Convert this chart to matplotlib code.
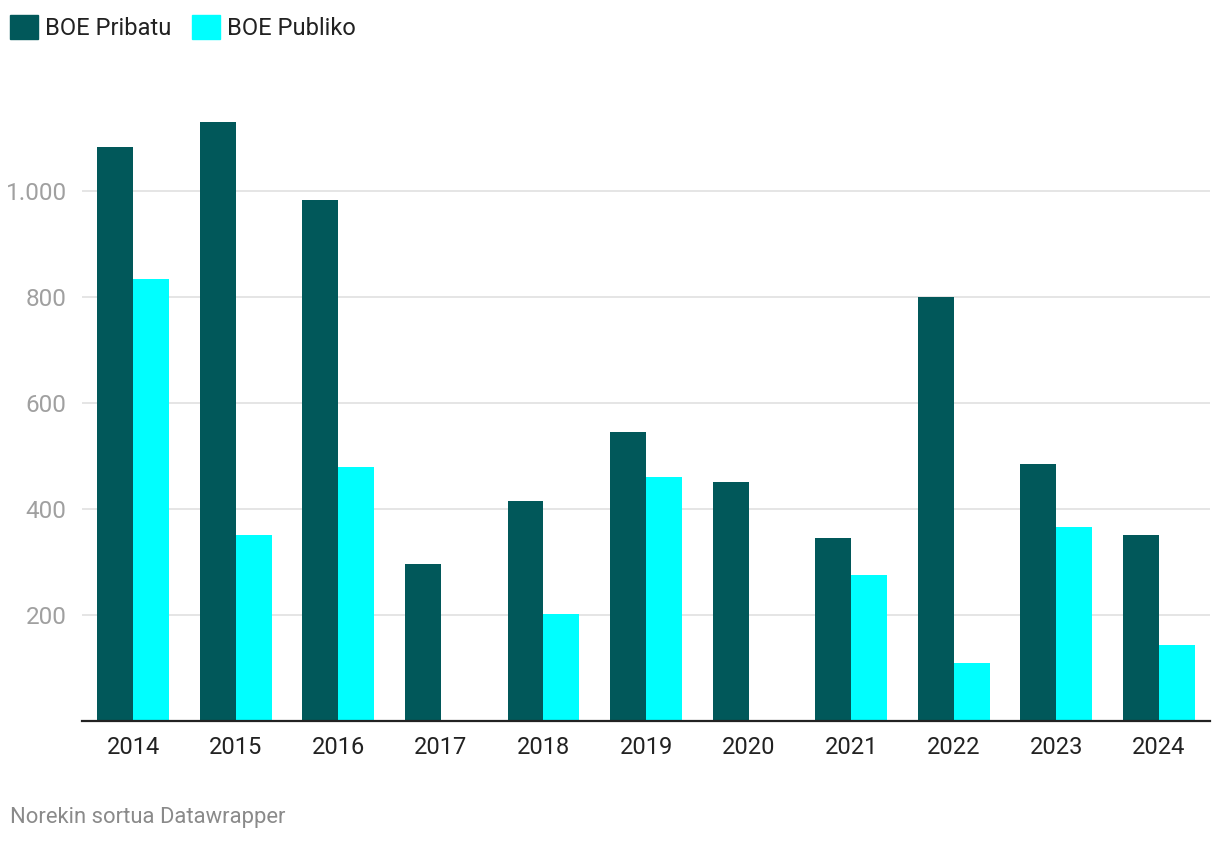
import numpy as np
import matplotlib.pyplot as plt
from matplotlib.patches import Patch
from matplotlib.ticker import FuncFormatter

# Data
years = ["2014", "2015", "2016", "2017", "2018", "2019", "2020", "2021", "2022", "2023", "2024"]
pribatu = [1083, 1130, 983, 296, 415, 545, 451, 345, 800, 485, 351]
publiko = [834, 351, 479, 0, 202, 460, 0, 275, 109, 366, 143]
y_ticks = [200, 400, 600, 800, 1000]

DARK = "#01585a"
CYAN = "#00ffff"

plt.rcParams["font.family"] = ["Roboto", "DejaVu Sans"]

W, H = 1220, 844
fig = plt.figure(figsize=(W / 100, H / 100), dpi=100)
ax = fig.add_axes([82 / W, (H - 721) / H, 1128 / W, (721 - 110) / H])

x = np.arange(len(years))
bw = 0.35
ax.bar(x - bw / 2, pribatu, width=bw, color=DARK, zorder=3)
ax.bar(x + bw / 2, publiko, width=bw, color=CYAN, zorder=3)

ax.set_xlim(-0.5, len(years) - 0.5)
ax.set_ylim(0, (721 - 110) / 0.53)
ax.set_yticks(y_ticks)
ax.yaxis.set_major_formatter(FuncFormatter(lambda v, p: f"{int(v):,}".replace(",", ".")))
ax.set_xticks(x)
ax.set_xticklabels(years)

ax.grid(axis="y", color="#e0e0e0", linewidth=1.2, zorder=0)
for s in ["top", "right", "left"]:
    ax.spines[s].set_visible(False)
ax.spines["bottom"].set_color("#222222")
ax.spines["bottom"].set_linewidth(1.6)
ax.spines["bottom"].set_zorder(4)

ax.tick_params(axis="y", length=0, pad=11, labelsize=17.5, labelcolor="#a0a0a0")
ax.tick_params(axis="x", length=0, pad=11, labelsize=17, labelcolor="#222222")

handles = [Patch(color=DARK, label="BOE Pribatu"), Patch(color=CYAN, label="BOE Publiko")]
fig.legend(handles=handles, loc="upper left", bbox_to_anchor=(10 / W, 1 - 15 / H), ncol=2,
           frameon=False, fontsize=17, handlelength=1.19, handleheight=1.19,
           handletextpad=0.3, columnspacing=0.85, labelcolor="#222222",
           borderpad=0, borderaxespad=0)

fig.text(10 / W, 1 - 818 / H, "Norekin sortua Datawrapper", fontsize=15.8,
         color="#8a8a8a", va="center", ha="left")

fig.savefig("out.png", dpi=100)
